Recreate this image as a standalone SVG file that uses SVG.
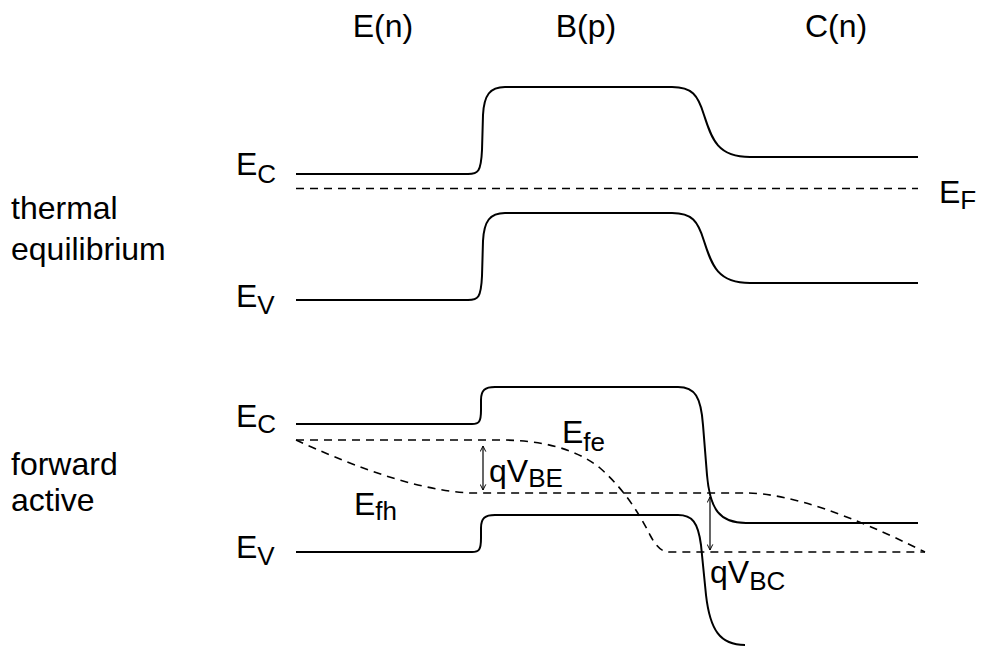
<svg xmlns="http://www.w3.org/2000/svg" width="982" height="650" viewBox="0 0 982 650">
<defs>
<style>
text{font-family:"Liberation Sans",Arial,sans-serif;font-size:32px;fill:#000}
.sub{font-size:26px}
.band{fill:none;stroke:#000;stroke-width:2}
.fermi{fill:none;stroke:#000;stroke-width:1.6;stroke-dasharray:8,6}
.arr{fill:none;stroke:#000;stroke-width:1.2;marker-start:url(#ah);marker-end:url(#ah)}
</style>
<marker id="ah" viewBox="0 0 10 10" refX="9" refY="5" markerWidth="7" markerHeight="7" orient="auto-start-reverse" markerUnits="userSpaceOnUse">
<path d="M1,1 L9,5 L1,9" fill="none" stroke="#000" stroke-width="1.4"/>
</marker>
</defs>
<rect width="982" height="650" fill="#fff"/>
<g id="headers">
<text x="383" y="37" text-anchor="middle">E(n)</text>
<text x="586" y="37" text-anchor="middle">B(p)</text>
<text x="836" y="37" text-anchor="middle">C(n)</text>
</g>
<g id="labels-left">
<text x="11" y="219">thermal</text>
<text x="11" y="260">equilibrium</text>
<text x="11" y="475">forward</text>
<text x="11" y="511">active</text>
</g>
<g id="eq-EC">
<path class="band" d="M296,174 H468 C478,174 481,172 482,150 L483,115 C484,95 490,87 505,87 H672 C692,87 698,95 704,115 C712,140 718,157 750,157 H918"/>
<text x="236" y="175">E<tspan class="sub" dy="8">C</tspan></text>
</g>
<g id="eq-EF">
<path class="fermi" d="M296,188.5 H918"/>
<text x="939" y="203">E<tspan class="sub" dy="6">F</tspan></text>
</g>
<g id="eq-EV">
<path class="band" transform="translate(0,126)" d="M296,174 H468 C478,174 481,172 482,150 L483,115 C484,95 490,87 505,87 H672 C692,87 698,95 704,115 C712,140 718,157 750,157 H918"/>
<text x="236" y="307">E<tspan class="sub" dy="7">V</tspan></text>
</g>
<g id="fa-EC">
<path class="band" d="M296,424 H472 C479,424 481,422 481,410 L481,400 C481,390 485,387 495,387 H678 C695,387 701,397 703,425 L707,475 C710,510 720,523 746,523 H918"/>
<text x="236" y="427">E<tspan class="sub" dy="6">C</tspan></text>
</g>
<g id="fa-EV">
<path class="band" d="M296,552 H472 C479,552 481,550 481,538 L481,528 C481,518 485,515 495,515 H678 C692,515 698,522 701,545 L706,595 C710,630 720,645 745,645"/>
<text x="236" y="558">E<tspan class="sub" dy="7">V</tspan></text>
</g>
<g id="fa-Efe">
<path class="fermi" d="M296,440 H500 C540,440 575,448 600,468 C625,490 640,515 650,535 C657,548 662,552 670,552 H925"/>
<text x="562" y="443">E<tspan class="sub" dy="8">fe</tspan></text>
</g>
<g id="fa-Efh">
<path class="fermi" d="M296,440 C340,460 410,490 470,493 H745 C790,493 850,515 925,552"/>
<text x="354" y="515">E<tspan class="sub" dy="5">fh</tspan></text>
</g>
<g id="connectors">
<path class="arr" d="M483,446 V490"/>
<path class="arr" d="M710,497 V550"/>
</g>
<g id="voltages">
<text x="489" y="482">qV<tspan class="sub" dy="5">BE</tspan></text>
<text x="710" y="583">qV<tspan class="sub" dy="7">BC</tspan></text>
</g>
</svg>
